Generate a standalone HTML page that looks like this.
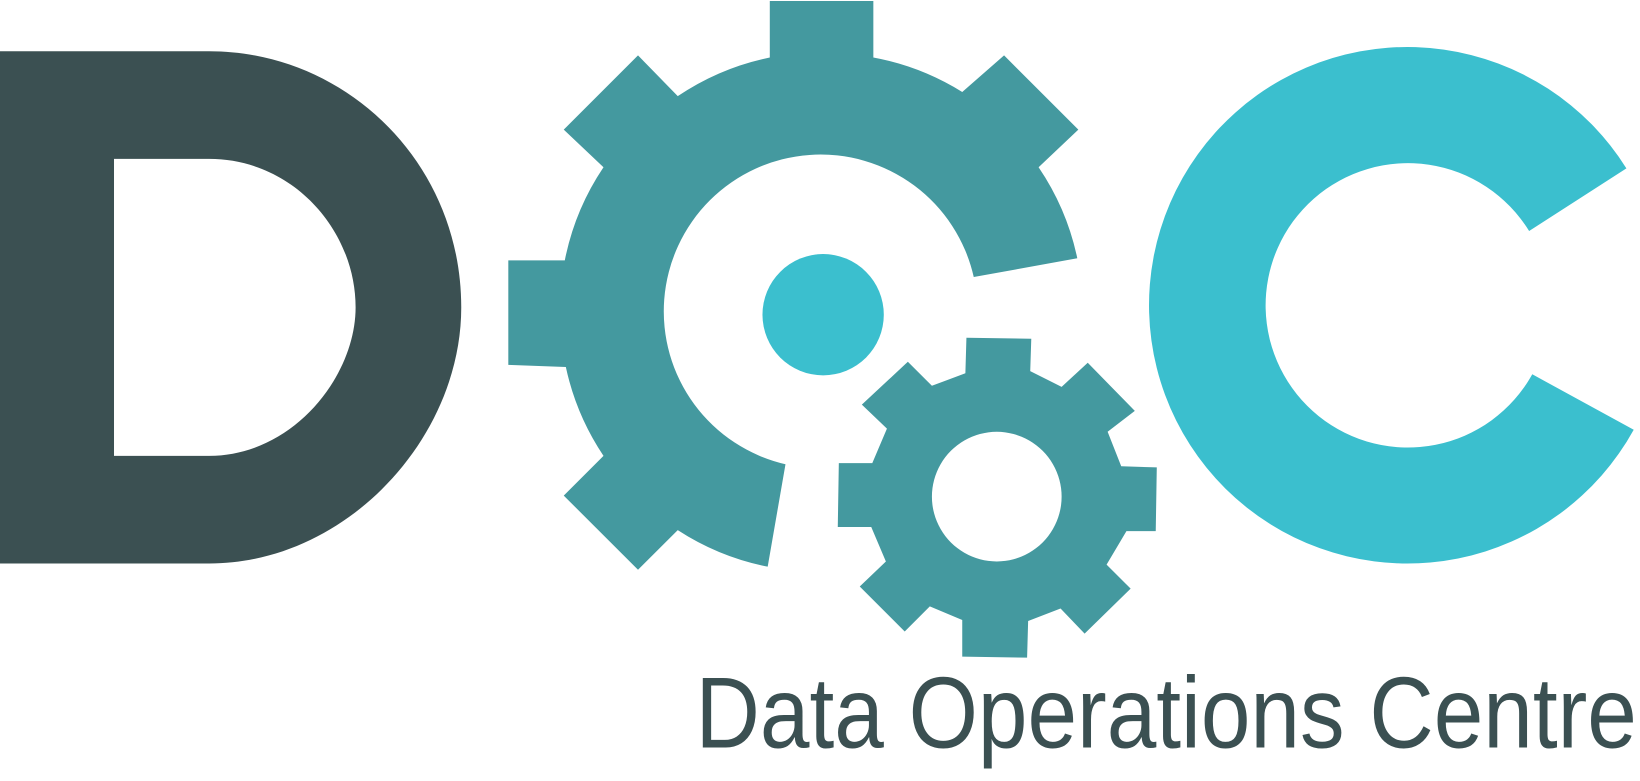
<!DOCTYPE html>
<html><head><meta charset="utf-8"><style>html,body{margin:0;padding:0;background:#fff;}svg{display:block}</style></head>
<body>
<svg width="1640" height="781" viewBox="0 0 1568 747" preserveAspectRatio="none" xmlns="http://www.w3.org/2000/svg">
<path fill="#3b5052" fill-rule="evenodd" d="M0,49 L200,49 C330,49 441,155 441,294 C441,420 330,539 200,539 L0,539 Z M109,152 L200,152 C280,152 340,220 340,294 C340,360 280,436 200,436 L109,436 Z"/>
<path fill="#44999f" d="M736,55 L736,1 L835,1 L835,55 A245 245 0 0 1 920,88 L960,53 L1031,124 L993,160 A245 245 0 0 1 1030,247 L931,265 A150 150 0 1 0 751,444 L734,542 A245 245 0 0 1 648,507 L610,545 L539,474 L577,436 A245 245 0 0 1 541,351 L486,349 L486,249 L540,249 A245 245 0 0 1 577,160 L539,124 L610,53 L648,92 A245 245 0 0 1 736,55 Z"/>
<circle cx="787" cy="301" r="58" fill="#3bbfce"/>
<path fill="#44999f" fill-rule="evenodd" d="M924,323 L986,324 L985,355 L1015,370 L1040,347 L1085,393 L1059,413 L1072,446 L1106,447 L1105,508 L1077,508 L1058,540 L1081,563 L1037,606 L1014,582 L983,594 L982,629 L920,628 L920,593 L889,580 L865,604 L822,561 L847,537 L833,504 L801,504 L802,443 L834,443 L848,410 L824,387 L868,346 L891,369 L923,357 Z M953,413 A62 62 0 1 0 953.01,413 Z"/>
<path fill="#3bbfce" d="M1555,161 A247 247 0 1 0 1562,411 L1465,358 A136 136 0 1 1 1462,221 Z"/>
<text x="665" y="715" font-family="Liberation Sans, Arial, sans-serif" font-size="97" fill="#3b5052" textLength="900" lengthAdjust="spacingAndGlyphs">Data Operations Centre</text>
</svg>
</body></html>
